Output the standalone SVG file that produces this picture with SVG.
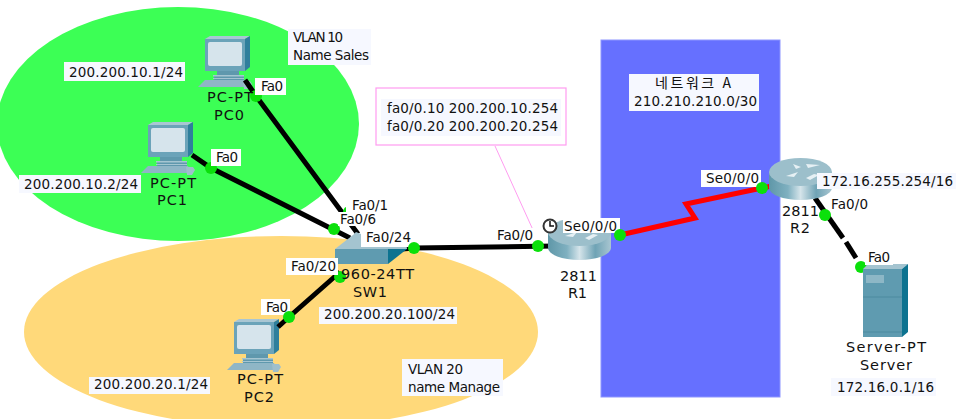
<svg xmlns="http://www.w3.org/2000/svg" xmlns:xlink="http://www.w3.org/1999/xlink" width="956" height="419" viewBox="0 0 956 419">
<style>
text{font-family:"DejaVu Sans","Noto Sans CJK KR",sans-serif;font-size:13.5px;fill:#111}
.kr{font-family:"Noto Sans CJK KR","DejaVu Sans",sans-serif;font-size:14px}
#device-labels text{font-size:14.5px}
.box{fill:#fff}
.ip{fill:#f6f8ff}
.link{fill:none;stroke:#000;stroke-width:5}
.dot{fill:#0be00b}
</style>
<defs>
<linearGradient id="cyl" x1="0" x2="1" y1="0" y2="0">
<stop offset="0" stop-color="#5f97a8"/><stop offset=".3" stop-color="#7fb0c0"/><stop offset=".5" stop-color="#d5e4ea"/><stop offset=".75" stop-color="#6fa3b5"/><stop offset="1" stop-color="#a9c6d1"/>
</linearGradient>
<g id="pc">
<path d="M205 39l5-3h40l-5 3z" fill="#a9c6d3"/>
<path d="M245 39l5-3v31l-5 4z" fill="#2f7f9c"/>
<rect x="205" y="39" width="40" height="32" fill="#6ba3b9"/>
<rect x="208" y="42" width="34" height="24" rx="2" fill="#d6e4ec"/>
<path d="M217 71h22v4h5v6h-30v-6h3z" fill="#5f98ad"/>
<path d="M213 75h31v1.500h-31zM213 78h31v1h-31z" fill="#a5c5d1"/>
<path d="M198 87l7-7h40l3 7z" fill="#8fb6c6"/>
<path d="M243 81h7l2 3-3 5h-5z" fill="#9fbfcc"/>
</g>
<g id="router">
<path d="M769 172v16a31.500 12 0 0 0 63 0v-16z" fill="url(#cyl)"/>
<ellipse cx="800.500" cy="172" rx="31.500" ry="14" fill="#9cbfcb"/>
<path d="M786 176l12-4-4 5zM806 164l14 1-12 3zM793 164l8 3-5 2zM806 178l8-4 5 1-9 5z" fill="#e6f0f4"/>
</g>
</defs>
<g id="regions">
<ellipse cx="178" cy="124" rx="181" ry="117" fill="#3cff55"/>
<ellipse cx="281" cy="332" rx="257" ry="96" fill="#ffd97a"/>
<rect x="601" y="40" width="179" height="357" fill="#6670ff" stroke="#8d95ff"/>
</g>
<g id="note-box">
<rect x="376" y="88" width="190" height="57" fill="#fff" stroke="#ff9cf0" stroke-width="1.200"/>
<line x1="495" y1="146" x2="533" y2="230" stroke="#ff9cf0"/>
<rect x="381" y="99" width="180" height="37" class="ip"/>
<text x="387" y="113" textLength="171">fa0/0.10 200.200.10.254</text>
<text x="387" y="131" textLength="171">fa0/0.20 200.200.20.254</text>
</g>
<g id="PC0"><use xlink:href="#pc" href="#pc"/></g>
<g id="PC1"><use xlink:href="#pc" href="#pc" x="-57" y="86"/></g>
<g id="PC2"><use xlink:href="#pc" href="#pc" x="29" y="283"/></g>
<g id="connectors">
<path class="link" d="M245 80L256 96L358 234"/>
<path class="link" d="M192 155L211 168L350 238"/>
<path class="link" d="M340 272L289 317L278 327"/>
<path class="link" d="M390 250L414 248L555 246"/>
<path d="M620 235L695 218L686 204L762 188L772 186" fill="none" stroke="#f00" stroke-width="5"/>
<path class="link" d="M815 198L843 238"/>
<path class="link" d="M846 242L856 258"/>
</g>
<g id="ports-under">
<circle class="dot" cx="256" cy="96" r="6"/>
<circle class="dot" cx="211" cy="168" r="6"/>
<circle class="dot" cx="334" cy="229" r="6"/>
<circle class="dot" cx="349" cy="212" r="6"/>
<circle class="dot" cx="340" cy="277" r="6"/>
<circle class="dot" cx="861" cy="267" r="6"/>
</g>
<g id="SW1">
<path d="M335 249l18-14 3-3 5 2 44 1 2 14z" fill="#a4c4d0"/>
<rect x="335" y="249" width="53" height="15" fill="#5f9bb0"/>
<path d="M388 249h19l-19 15z" fill="#0d7390"/>
</g>
<g id="R1">
<use xlink:href="#router" href="#router" x="-221" y="60"/>
<circle cx="550" cy="226" r="6.500" fill="#fff" stroke="#333" stroke-width="2"/>
<path d="M550 221v5h4" fill="none" stroke="#111" stroke-width="1.500"/>
</g>
<g id="R2"><use xlink:href="#router" href="#router"/></g>
<g id="Server">
<path d="M863 269l5-5h40l-6 5z" fill="#a4c4d0"/>
<path d="M902 269l6-5v68l-6 5z" fill="#0d7390"/>
<rect x="863" y="269" width="39" height="68" fill="#5f9bb0"/>
<rect x="866" y="275" width="18" height="8" fill="#8db7c6"/>
<path d="M863 297h39M863 332h39" stroke="#4d8a9f"/>
</g>
<g id="labels">
<rect class="box" x="255" y="78" width="31" height="17"/><text x="261" y="91" textLength="22">Fa0</text>
<rect class="box" x="211" y="149" width="30" height="17"/><text x="216" y="162" textLength="22">Fa0</text>
<rect class="ip" x="288" y="29" width="83" height="36"/><text x="293" y="42" textLength="50">VLAN 10</text><text x="293" y="60" textLength="76">Name Sales</text>
<rect class="ip" x="64" y="62" width="121" height="19"/><text x="69" y="77" textLength="114">200.200.10.1/24</text>
<rect class="ip" x="19" y="175" width="122" height="18"/><text x="24" y="189" textLength="114">200.200.10.2/24</text>
<rect class="box" x="346" y="197" width="45" height="15"/><text x="352" y="210" textLength="36">Fa0/1</text>
<rect class="box" x="338" y="212" width="40" height="14"/><text x="340" y="224" textLength="36">Fa0/6</text>
<rect class="box" x="361" y="231" width="51" height="16"/><text x="366" y="242" textLength="45">Fa0/24</text>
<rect class="box" x="286" y="258" width="52" height="17"/><text x="291" y="271" textLength="45">Fa0/20</text>
<rect class="ip" x="319" y="307" width="138" height="17"/><text x="324" y="319" textLength="131">200.200.20.100/24</text>
<rect class="box" x="261" y="299" width="29" height="16"/><text x="266" y="312" textLength="22">Fa0</text>
<rect class="ip" x="89" y="377" width="121" height="17"/><text x="94" y="389" textLength="114">200.200.20.1/24</text>
<rect class="ip" x="402" y="359" width="101" height="37"/><text x="408" y="374" textLength="55">VLAN 20</text><text x="408" y="392" textLength="92">name Manage</text>
<rect class="box" x="492" y="228" width="45" height="15"/><text x="497" y="240" textLength="36">Fa0/0</text>
<rect class="box" x="563" y="218" width="57" height="15"/><text x="564" y="231" textLength="53">Se0/0/0</text>
<rect class="ip" x="629" y="74" width="130" height="37"/><text class="kr" x="655" y="88" textLength="76">네트워크 A</text><text x="634" y="106" textLength="123">210.210.210.0/30</text>
<rect class="box" x="701" y="170" width="60" height="17"/><text x="706" y="183" textLength="53">Se0/0/0</text>
<rect class="ip" x="817" y="173" width="139" height="16"/><text x="822" y="186" textLength="131">172.16.255.254/16</text>
<rect class="box" x="829" y="197" width="41" height="16"/><text x="831" y="209" textLength="37">Fa0/0</text>
<rect class="box" x="865" y="249" width="28" height="16"/><text x="868" y="262" textLength="22">Fa0</text>
<rect class="ip" x="831" y="378" width="105" height="18"/><text x="837" y="392" textLength="97">172.16.0.1/16</text>
</g>
<g id="ports-over">
<circle class="dot" cx="289" cy="317" r="6"/>
<circle class="dot" cx="414" cy="248" r="6"/>
<circle class="dot" cx="538" cy="246" r="6"/>
<circle class="dot" cx="620" cy="235" r="6"/>
<circle class="dot" cx="762" cy="188" r="6"/>
<circle class="dot" cx="825" cy="215" r="6"/>
</g>
<g id="device-labels">
<text x="207" y="102" textLength="46">PC-PT</text><text x="214" y="120" textLength="30">PC0</text>
<text x="150" y="188" textLength="46">PC-PT</text><text x="157" y="205" textLength="30">PC1</text>
<text x="237" y="384" textLength="46">PC-PT</text><text x="244" y="402" textLength="30">PC2</text>
<text x="341" y="279" textLength="73">960-24TT</text><text x="353" y="297" textLength="34">SW1</text>
<text x="560" y="281" textLength="37">2811</text><text x="568" y="298" textLength="19">R1</text>
<text x="782" y="216" textLength="37">2811</text><text x="790" y="233" textLength="20">R2</text>
<text x="846" y="352" textLength="80">Server-PT</text><text x="860" y="370" textLength="52">Server</text>
</g>
</svg>
